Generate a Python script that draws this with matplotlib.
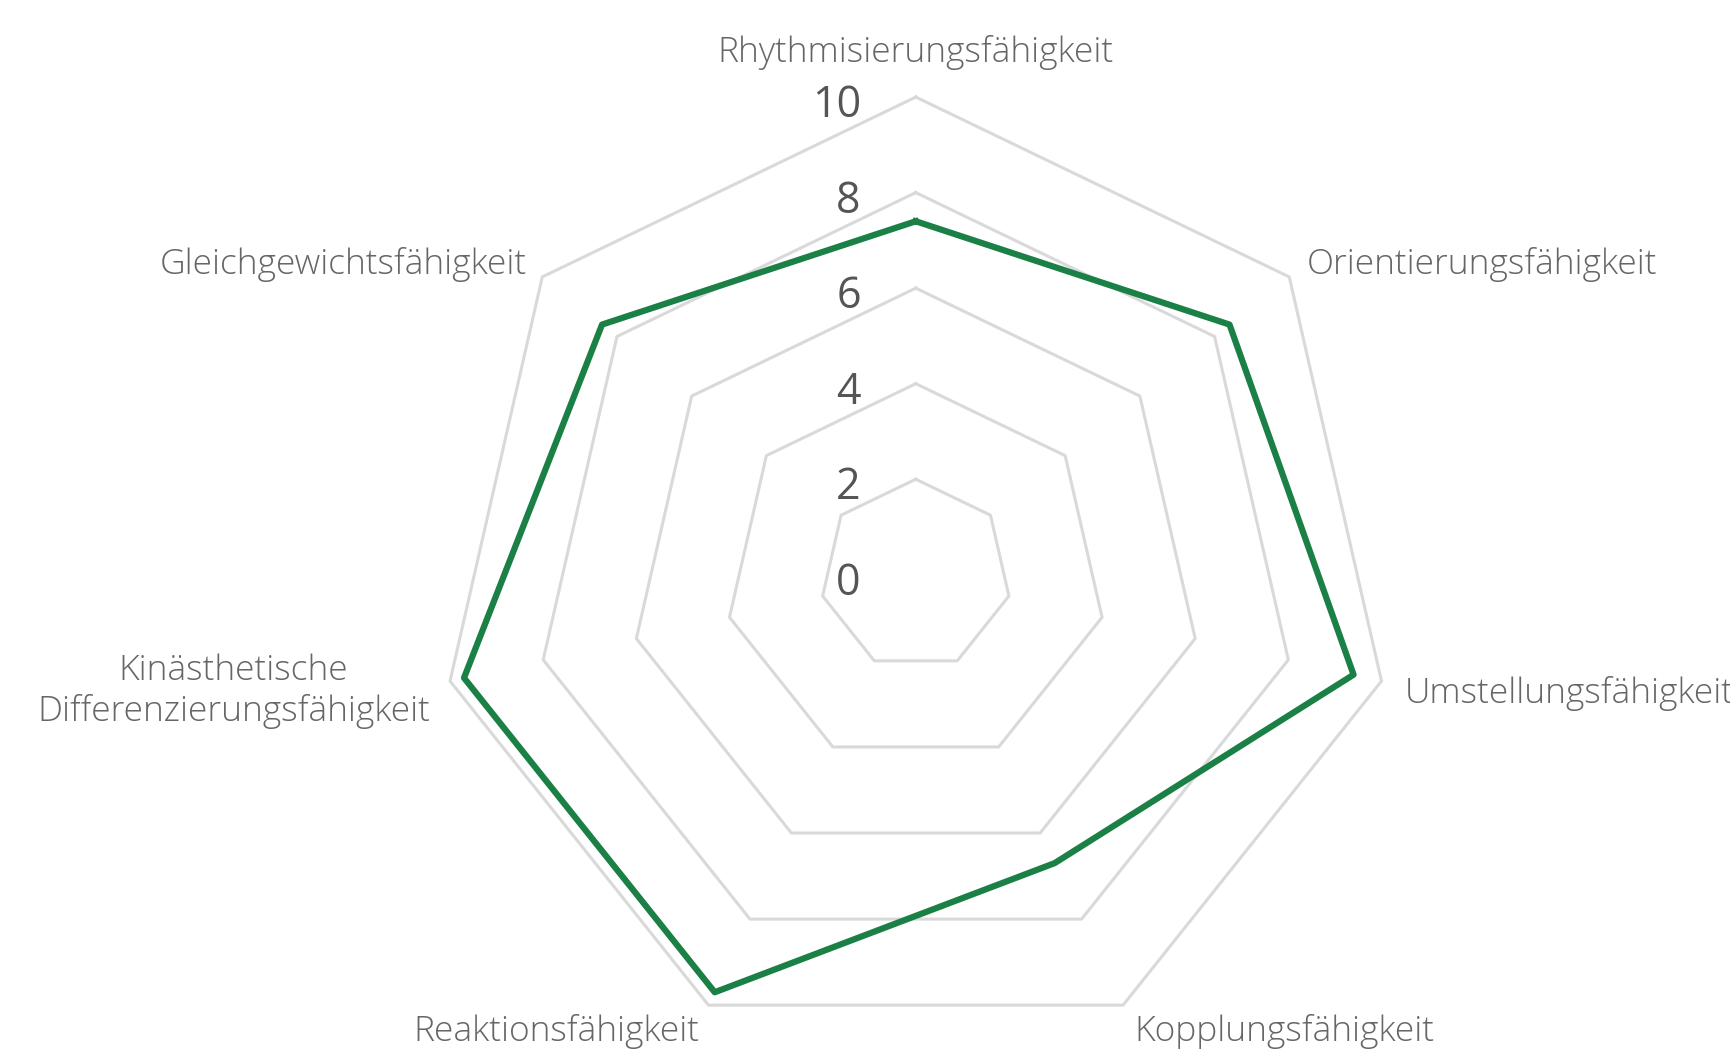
import numpy as np
import matplotlib
matplotlib.use('Agg')
import matplotlib.pyplot as plt

plt.rcParams['font.family'] = ['Open Sans', 'DejaVu Sans']

# Achsen und Werte
categories = ['Rhythmisierungsfähigkeit', 'Orientierungsfähigkeit', 'Umstellungsfähigkeit',
              'Kopplungsfähigkeit', 'Reaktionsfähigkeit',
              'Kinästhetische\nDifferenzierungsfähigkeit', 'Gleichgewichtsfähigkeit']
values = [7.4, 8.4, 9.4, 6.7, 9.7, 9.7, 8.4]
levels = [2, 4, 6, 8, 10]
tick_labels = ['0', '2', '4', '6', '8', '10']

n = len(categories)
angles = np.linspace(0, 2 * np.pi, n, endpoint=False)
ang_closed = np.append(angles, angles[0])

fig = plt.figure(figsize=(17.3, 10.63), dpi=100)
ax = fig.add_axes([0.2532, 0.0099, 0.5523, 0.8988], projection='polar')
ax.set_theta_zero_location('N')
ax.set_theta_direction(-1)
ax.set_ylim(0, 10)
ax.grid(False)
ax.spines['polar'].set_visible(False)
ax.set_xticks([])
ax.set_yticks([])

# Netz (Siebenecke)
for lv in levels:
    ax.plot(ang_closed, [lv] * (n + 1), color='#d9d9d9', lw=2.2, clip_on=False, zorder=1)

# Datenlinie
vals_closed = values + values[:1]
ax.plot(ang_closed, vals_closed, color='#1a8045', lw=4.5, clip_on=False, zorder=3)

# Skalenbeschriftung
for i, t in enumerate(tick_labels):
    ax.annotate(t, xy=(0, i * 2), xytext=(-55, -9), textcoords='offset pixels',
                ha='right', va='center', fontsize=31, color='#555555', zorder=4)

# Achsenbeschriftung (rechts wie im Original am Rand abgeschnitten)
offsets = [(0, 45), (17, 12), (23, -12), (11, -26), (-9, -26), (-20, -10), (-15, 12)]
has = ['center', 'left', 'left', 'left', 'right', 'right', 'right']
for a, lab, off, h in zip(angles, categories, offsets, has):
    ax.annotate(lab, xy=(a, 10), xytext=off, textcoords='offset pixels',
                ha=h, va='center', multialignment='center',
                fontsize=25.5, color='#666666', fontweight='light', annotation_clip=False)

fig.savefig('out.png', dpi=100, facecolor='white')
